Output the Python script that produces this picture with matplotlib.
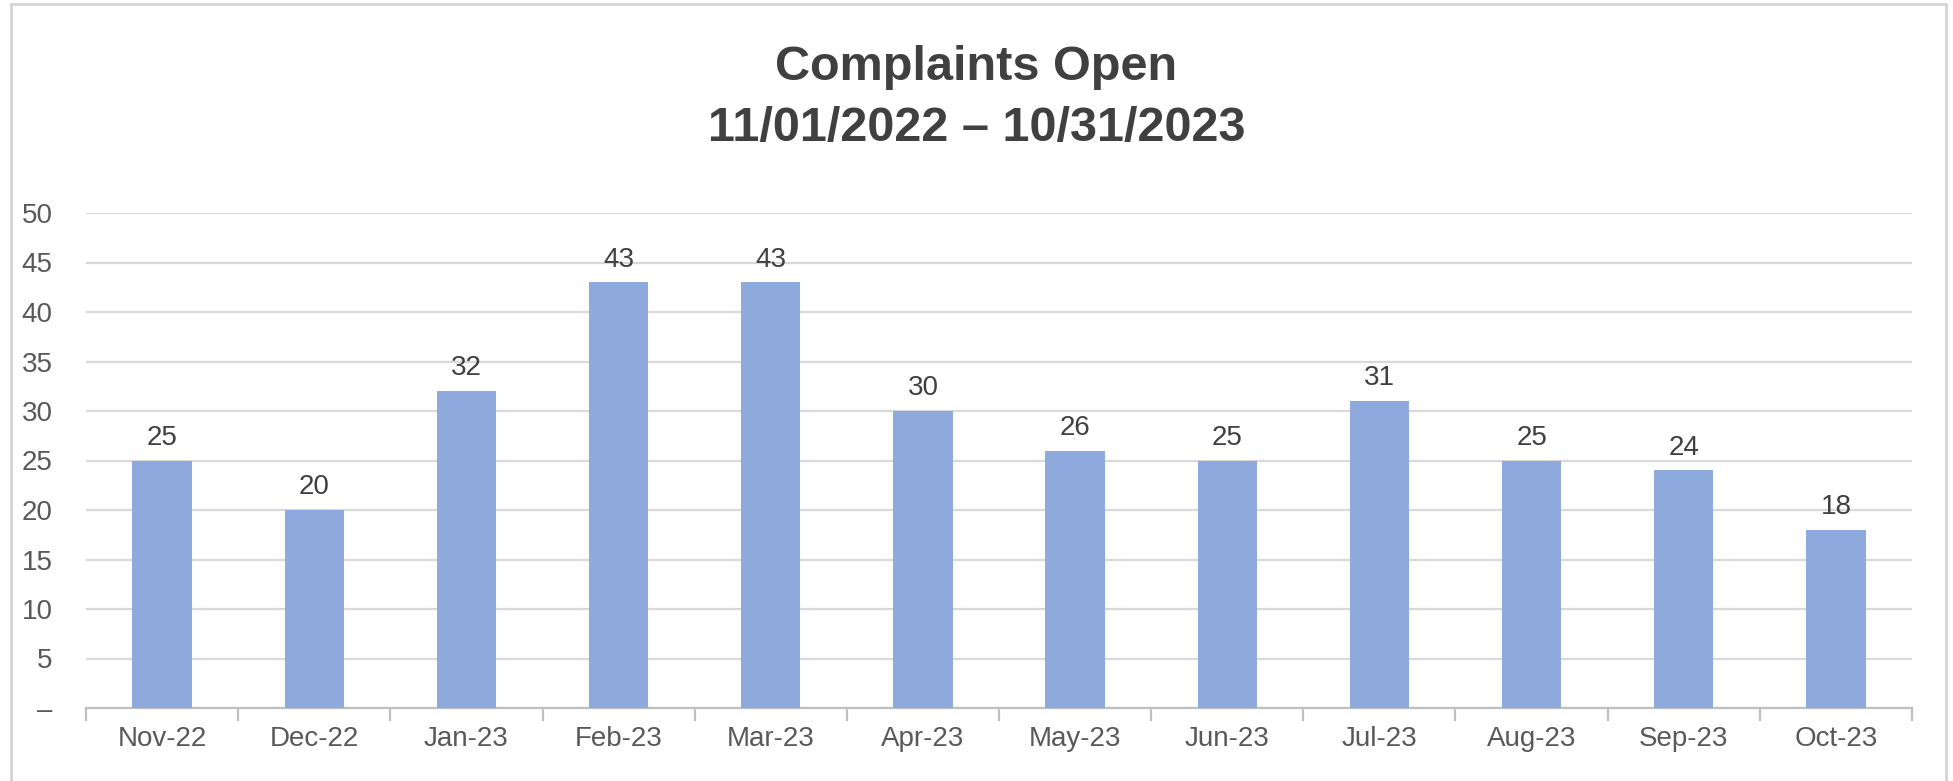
import matplotlib
matplotlib.use("Agg")
import matplotlib.pyplot as plt
from matplotlib import font_manager
from matplotlib.patches import Rectangle

months = ["Nov-22", "Dec-22", "Jan-23", "Feb-23", "Mar-23", "Apr-23",
          "May-23", "Jun-23", "Jul-23", "Aug-23", "Sep-23", "Oct-23"]
values = [25, 20, 32, 43, 43, 30, 26, 25, 31, 25, 24, 18]
yticks = [0, 5, 10, 15, 20, 25, 30, 35, 40, 45, 50]
ytick_labels = ["–", "5", "10", "15", "20", "25", "30", "35", "40", "45", "50"]
title = "Complaints Open\n11/01/2022 – 10/31/2023"

names = {f.name for f in font_manager.fontManager.ttflist}
fam = "Liberation Sans Narrow" if "Liberation Sans Narrow" in names else "Liberation Sans"
plt.rcParams["font.family"] = [fam, "DejaVu Sans"]

W, H = 1953, 781
fig = plt.figure(figsize=(W / 100, H / 100), dpi=100)
fig.patch.set_facecolor("white")

# outer chart border
fig.patches.append(Rectangle((11 / W, -0.01), (1946 - 11) / W, 1 - 4 / H + 0.01,
                             transform=fig.transFigure, fill=False,
                             edgecolor="#D4D4D4", linewidth=2))

ax = fig.add_axes([86 / W, 1 - 708 / H, (1912 - 86) / W, (708 - 213) / H])
x = range(len(months))
bars = ax.bar(x, values, width=0.39, color="#8EA9DB", zorder=3)
ax.set_xlim(-0.5, len(months) - 0.5)
ax.set_ylim(0, 50)
ax.set_yticks(yticks)
ax.set_yticklabels(ytick_labels)
ax.set_xticks(list(x))
ax.set_xticklabels(months)
ax.grid(axis="y", color="#D9D9D9", linewidth=1.6, zorder=0)
for s in ["top", "right", "left"]:
    ax.spines[s].set_visible(False)
ax.spines["bottom"].set_color("#BFBFBF")
ax.spines["bottom"].set_linewidth(1.6)
ax.tick_params(axis="y", length=0, pad=24, labelsize=20, labelcolor="#595959")
ax.tick_params(axis="x", length=0, pad=13, labelsize=20, labelcolor="#595959")
# category boundary ticks
ax.set_xticks([i - 0.5 for i in range(len(months) + 1)], minor=True)
ax.tick_params(axis="x", which="minor", length=9, width=1.6, color="#BFBFBF", direction="out")

for b, v in zip(bars, values):
    ax.annotate(str(v), (b.get_x() + b.get_width() / 2, v), xytext=(0, 7),
                textcoords="offset points", ha="center", va="bottom",
                fontsize=20, color="#404040")

fig.text(0.5, 1 - 98 / H, title, ha="center", va="center", fontsize=35,
         fontweight="bold", color="#404040", linespacing=1.45)

fig.savefig("out.png", dpi=100, facecolor="white")
